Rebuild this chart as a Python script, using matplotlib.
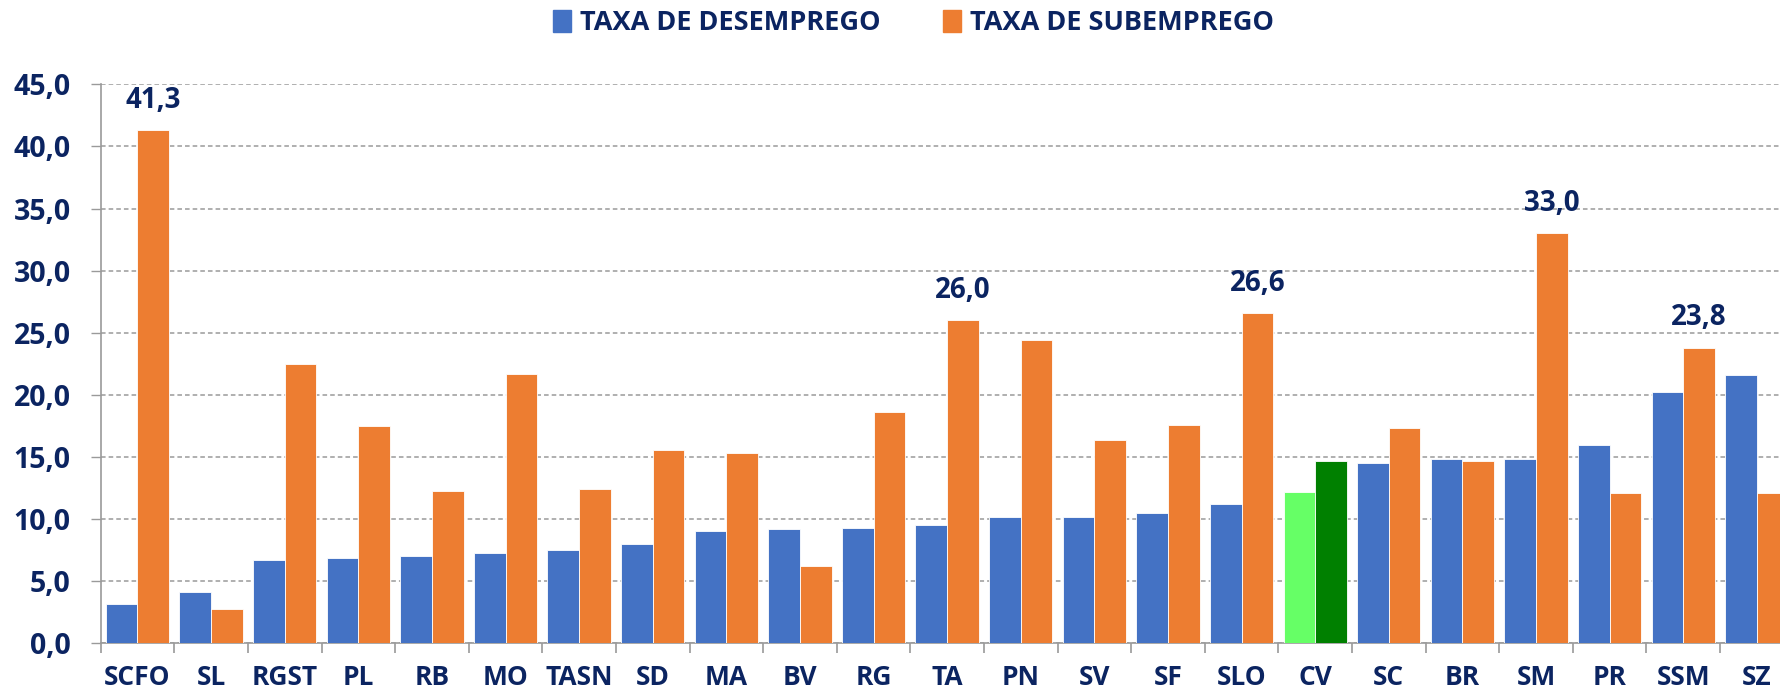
import matplotlib.pyplot as plt
import matplotlib.patches as mpatches
import numpy as np

# values
categories = ['SCFO', 'SL', 'RGST', 'PL', 'RB', 'MO', 'TASN', 'SD', 'MA', 'BV', 'RG', 'TA',
              'PN', 'SV', 'SF', 'SLO', 'CV', 'SC', 'BR', 'SM', 'PR', 'SSM', 'SZ']
desemprego = [3.2, 4.1, 6.7, 6.9, 7.0, 7.3, 7.5, 8.0, 9.0, 9.2, 9.3, 9.5,
              10.2, 10.2, 10.5, 11.2, 12.2, 14.5, 14.8, 14.8, 16.0, 20.2, 21.6]
subemprego = [41.3, 2.8, 22.5, 17.5, 12.3, 21.7, 12.4, 15.6, 15.3, 6.2, 18.6, 26.0,
              24.4, 16.4, 17.6, 26.6, 14.7, 17.3, 14.7, 33.0, 12.1, 23.8, 12.1]
labelled = ['SCFO', 'TA', 'SLO', 'SM', 'SSM']
yticks = np.arange(0, 46, 5)

BLUE = '#4472C4'
ORANGE = '#ED7D31'
NAVY = '#0B2461'
GRID = '#9A9A9A'
FONT = ['Open Sans', 'DejaVu Sans']

fig = plt.figure(figsize=(17.81, 6.97), dpi=100)
ax = fig.add_axes([0.05654, 0.07705, 0.95053, 0.80200])

x = np.arange(len(categories))
w = 0.43
c1 = ['#66FF66' if c == 'CV' else BLUE for c in categories]
c2 = ['#008000' if c == 'CV' else ORANGE for c in categories]

ax.bar(x - w / 2, desemprego, w, color=c1, edgecolor='#FFFFFF', linewidth=0.6, zorder=3)
bars = ax.bar(x + w / 2, subemprego, w, color=c2, edgecolor='#FFFFFF', linewidth=0.6, zorder=3)

for b, cat, v in zip(bars, categories, subemprego):
    if cat in labelled:
        ax.annotate(f'{v:.1f}'.replace('.', ','), (b.get_x() + b.get_width() / 2, v),
                    xytext=(0, 11), textcoords='offset points', ha='center', va='bottom',
                    fontsize=20, fontweight='bold', color=NAVY, family=FONT)

ax.set_xlim(-0.5, len(categories) - 0.5)
ax.set_ylim(0, 45)
ax.set_yticks(yticks)
ax.set_yticklabels([f'{t:.1f}'.replace('.', ',') for t in yticks])
ax.set_xticks(x)
ax.set_xticklabels(categories)
ax.set_xticks(np.arange(-0.5, len(categories), 1), minor=True)

ax.tick_params(axis='x', which='major', length=0, pad=15, labelsize=19, labelcolor=NAVY)
ax.tick_params(axis='x', which='minor', length=7, width=1.2, color=GRID)
ax.tick_params(axis='y', length=7.5, width=1.0, color=GRID, pad=14, labelsize=20.5, labelcolor=NAVY)
for lab in ax.get_xticklabels() + ax.get_yticklabels():
    lab.set_fontweight('bold')
    lab.set_family(FONT)

ax.grid(axis='y', color=GRID, linestyle=(0, (3, 2)), linewidth=1.1, zorder=0)
for s in ['top', 'right']:
    ax.spines[s].set_visible(False)
for s in ['left', 'bottom']:
    ax.spines[s].set_color(GRID)
    ax.spines[s].set_linewidth(1.2)

handles = [mpatches.Patch(color=BLUE, label='TAXA DE DESEMPREGO'),
           mpatches.Patch(color=ORANGE, label='TAXA DE SUBEMPREGO')]
leg = fig.legend(handles=handles, loc='center', bbox_to_anchor=(0.513, 0.967), ncol=2,
                 frameon=False, handlelength=0.65, handleheight=0.9, handletextpad=0.35,
                 columnspacing=2.3, prop={'family': FONT, 'weight': 'bold', 'size': 19.5})
for t in leg.get_texts():
    t.set_color(NAVY)

fig.savefig('out.png', dpi=100)
